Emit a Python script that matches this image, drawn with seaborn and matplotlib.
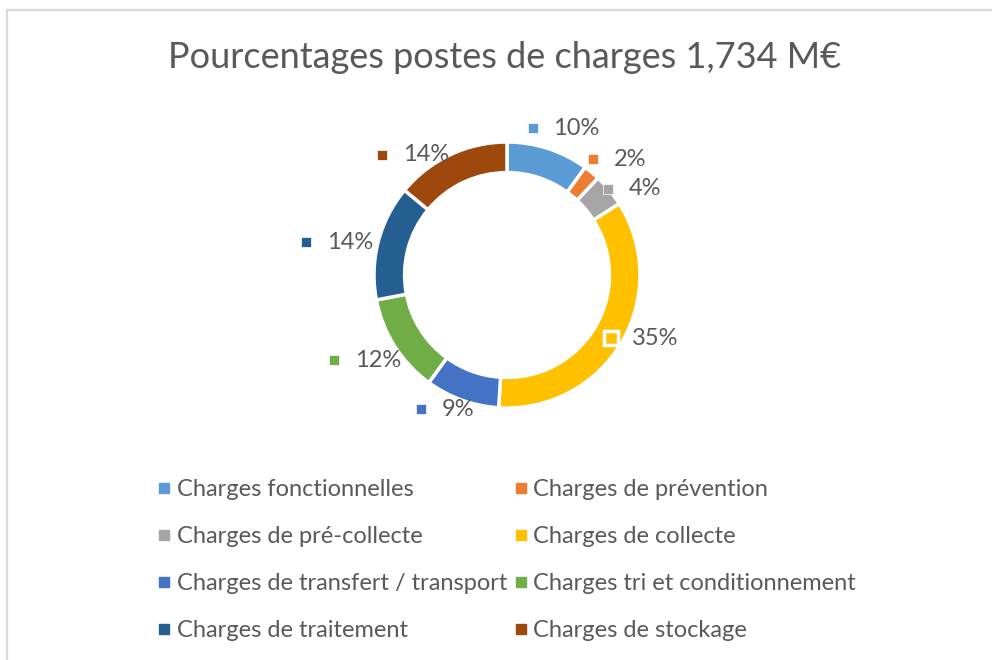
import numpy as np
import matplotlib
matplotlib.use("Agg")
import matplotlib.pyplot as plt
from matplotlib.lines import Line2D
import seaborn as sns

categories = [
    "Charges fonctionnelles",
    "Charges de prévention",
    "Charges de pré-collecte",
    "Charges de collecte",
    "Charges de transfert / transport",
    "Charges tri et conditionnement",
    "Charges de traitement",
    "Charges de stockage",
]
shares = [10, 2, 4, 35, 9, 12, 14, 14]
colors = ["#5B9BD5", "#ED7D31", "#A5A5A5", "#FFC000",
          "#4472C4", "#70AD47", "#255E91", "#9E480E"]
title = "Pourcentages postes de charges 1,734 M\u20ac"

# label layout (Excel spreads the labels a bit): radius in px, angle nudge in deg
label_radius_px = [157, 160, 152, 149, 148, 166, 173, 153]
label_nudge_deg = [3, 4, 5, -5.5, 5, 1.5, -3.5, -13]

sns.set_theme(style="white")
plt.rcParams["font.family"] = ["Lato", "DejaVu Sans"]
TEXT = "#595959"

W, H = 992, 660
fig = plt.figure(figsize=(W / 100, H / 100), dpi=100)

# chart frame (light grey border, left and top visible)
fig.add_artist(Line2D([7 / W, 7 / W], [0, 1 - 10 / H], color="#D9D9D9", lw=1.6))
fig.add_artist(Line2D([7 / W, 1], [1 - 10 / H, 1 - 10 / H], color="#D9D9D9", lw=1.6))

# donut axes: 133 px per data unit, centre at (507, 275)
cx, cy, R = 507, 275, 133
L = 2.0
side = 2 * L * R
ax = fig.add_axes([(cx - side / 2) / W, (H - cy - side / 2) / H, side / W, side / H])

ax.pie(shares, colors=sns.color_palette(colors), startangle=90, counterclock=False,
       radius=1.0, wedgeprops=dict(width=0.23, edgecolor="white", linewidth=2.5))
ax.set_xlim(-L, L)
ax.set_ylim(-L, L)
ax.set_aspect("equal")
ax.axis("off")

# data labels: marker square + percentage, block centred outside the ring
total = sum(shares)
cum = np.cumsum(shares) - np.array(shares) / 2
px = 1 / R  # one pixel in data units
for i, (v, c) in enumerate(zip(shares, colors)):
    ang = np.deg2rad(90 - 360 * cum[i] / total - label_nudge_deg[i])
    r = label_radius_px[i] * px
    x, y = r * np.cos(ang), r * np.sin(ang)
    lab = f"{v}%"
    block = 21 + 13.5 * len(lab)  # marker + gap + text width, in px
    x0 = x - block / 2 * px
    if v == max(shares):
        ax.plot(x0, y, marker="s", ms=10, color=c, mec="white", mew=2.5, clip_on=False)
    else:
        ax.plot(x0, y, marker="s", ms=7, color=c, mec="white", mew=0.5, clip_on=False)
    ax.text(x0 + 21 * px, y, lab, ha="left", va="center", fontsize=17, color=TEXT)

fig.text(505 / W, 1 - 58 / H, title, ha="center", va="center", fontsize=26, color=TEXT)

handles = [Line2D([], [], marker="s", ls="", ms=7, color=c) for c in colors]
order = list(range(0, 8, 2)) + list(range(1, 8, 2))
fig.legend([handles[k] for k in order], [categories[k] for k in order],
           ncol=2, loc="upper left", bbox_to_anchor=(137 / W, 1 - 458 / H),
           frameon=False, fontsize=17, labelcolor=TEXT, handlelength=0.5,
           handletextpad=0.3, columnspacing=0.3, labelspacing=1.1)

fig.savefig("out.png", dpi=100, facecolor="white")
